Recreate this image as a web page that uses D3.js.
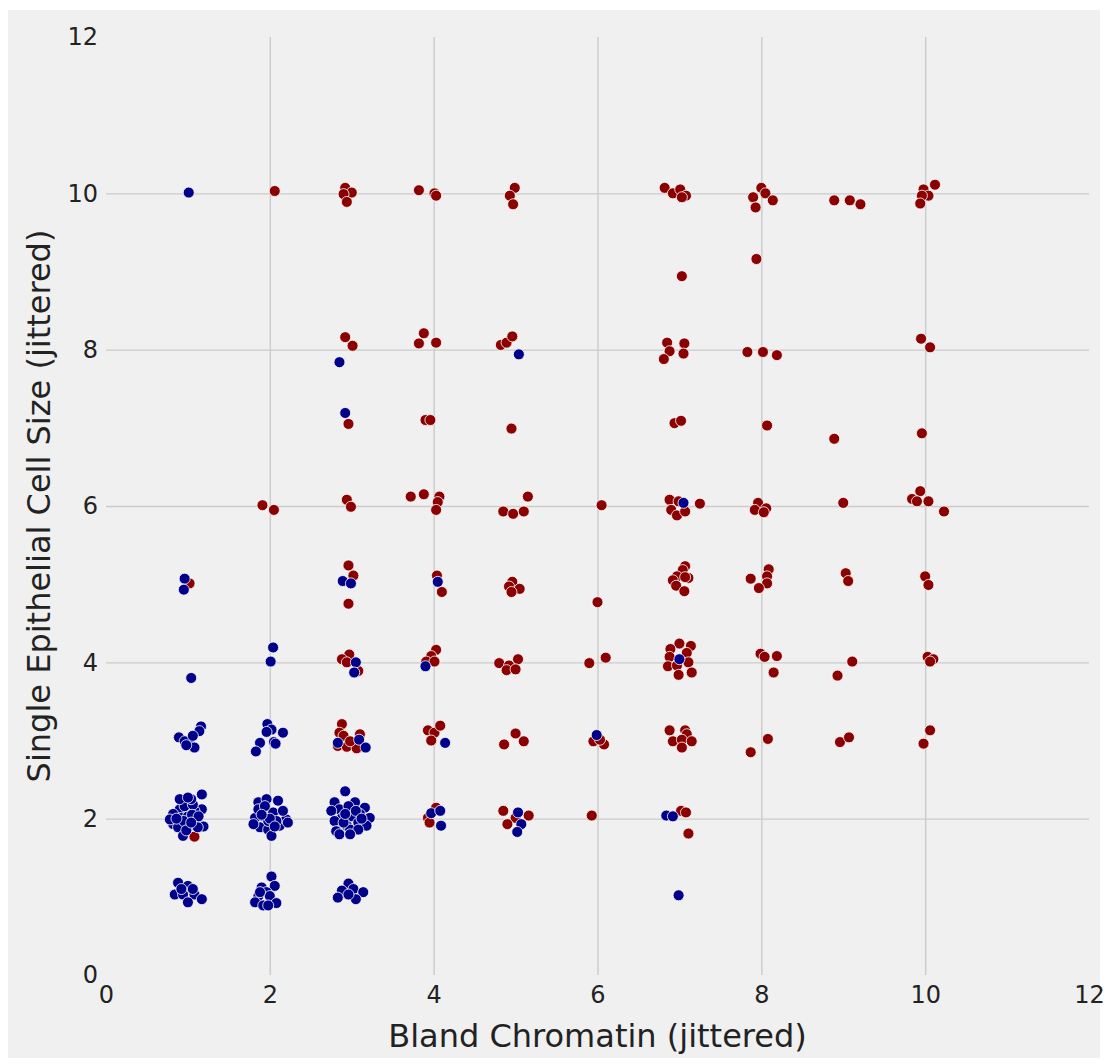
<!DOCTYPE html>
<html>
<head>
<meta charset="utf-8">
<script src="https://cdn.jsdelivr.net/npm/d3@7"></script>
<style>
  body { margin: 0; background: #fff; }
  text { font-family: "DejaVu Sans", sans-serif; }
</style>
</head>
<body>
<div id="container"></div>
<script>
// chart values (x = bland chromatin, y = cell size, both jittered)
const xTicks = [0, 2, 4, 6, 8, 10, 12];
const yTicks = [0, 2, 4, 6, 8, 10, 12];
const xLabel = 'Bland Chromatin (jittered)';
const yLabel = 'Single Epithelial Cell Size (jittered)';

const malignant = [
  [2.06,10.03],[2.92,10.07],[3.00,10.01],[2.90,9.99],[2.94,9.89],
  [3.82,10.04],[4.01,10.00],[4.03,9.97],[4.99,10.07],[4.93,9.97],[4.97,9.86],
  [6.82,10.07],[6.92,10.00],[7.01,10.05],[7.08,9.97],[7.03,9.95],
  [8.00,10.07],[8.05,10.00],[7.90,9.95],[8.14,9.91],[7.93,9.82],
  [8.89,9.91],[9.08,9.91],[9.21,9.86],
  [10.12,10.11],[9.98,10.05],[10.04,9.97],[9.96,9.97],[9.94,9.87],
  [7.94,9.16],[7.03,8.94],
  [2.92,8.16],[3.01,8.05],[3.88,8.21],[3.82,8.08],[4.03,8.09],[4.82,8.06],[4.89,8.09],[4.96,8.17],
  [6.85,8.09],[6.88,7.98],[6.81,7.88],[7.06,8.08],[7.05,7.95],[7.83,7.97],[8.02,7.97],[8.19,7.93],
  [9.95,8.14],[10.06,8.03],
  [2.96,7.05],[3.90,7.10],[3.96,7.10],[4.95,6.99],[6.94,7.06],[7.02,7.09],[8.07,7.03],[8.89,6.86],[9.96,6.93],
  [1.91,6.01],[2.05,5.95],[2.94,6.08],[2.99,5.99],[3.72,6.12],[3.88,6.15],[4.07,6.12],[4.05,6.05],[4.03,5.95],
  [4.85,5.93],[4.97,5.90],[5.10,5.93],[5.15,6.12],[6.05,6.01],[6.88,6.08],[7.25,6.03],[6.90,5.95],[6.97,5.88],
  [7.07,5.93],[6.99,6.06],[7.96,6.04],[8.06,5.97],[7.92,5.95],[8.03,5.92],[9.00,6.04],[9.94,6.19],[9.84,6.09],
  [9.90,6.06],[10.04,6.06],[10.23,5.93],
  [1.02,5.01],[2.96,5.24],[3.02,5.11],[2.96,4.75],[4.04,5.11],[4.10,4.90],[4.96,5.03],[4.92,4.97],[5.05,4.94],
  [4.95,4.90],[6.00,4.77],[7.07,5.23],[7.04,5.18],[6.97,5.10],[6.92,5.05],[7.11,5.08],[7.07,5.09],[6.96,4.98],
  [7.06,4.91],[8.09,5.19],[8.07,5.10],[7.87,5.07],[8.07,5.01],[7.97,4.95],[9.03,5.14],[9.06,5.04],[10.00,5.10],[10.04,4.99],
  [2.97,4.10],[2.88,4.04],[2.94,4.00],[3.08,3.89],[4.03,4.16],[3.97,4.08],[3.91,4.01],[4.01,4.01],[4.80,3.99],
  [4.92,3.96],[5.03,4.04],[4.89,3.90],[5.00,3.91],[5.90,3.99],[6.10,4.06],[7.00,4.24],[7.14,4.21],[6.89,4.17],
  [7.09,4.12],[6.88,4.07],[7.11,4.00],[6.86,3.95],[6.97,3.96],[6.99,3.84],[7.15,3.87],[7.99,4.11],[8.04,4.07],
  [8.19,4.08],[8.15,3.87],[9.11,4.01],[8.93,3.83],[10.03,4.07],[10.10,4.04],[10.06,4.01],
  [2.88,3.21],[2.85,3.10],[2.90,3.06],[3.10,3.08],[2.83,2.93],[2.94,2.92],[3.06,2.90],[2.98,2.99],[3.93,3.13],
  [4.01,3.10],[4.08,3.19],[3.97,3.00],[4.86,2.95],[5.00,3.09],[5.10,2.99],[5.95,2.99],[6.08,2.95],[6.03,3.01],
  [6.88,3.13],[7.07,3.13],[7.09,3.08],[6.92,2.99],[7.03,3.01],[7.15,2.99],[7.03,2.91],[8.08,3.02],[7.87,2.85],
  [8.96,2.98],[9.07,3.04],[10.06,3.13],[9.98,2.96],
  [1.08,1.77],[4.03,2.14],[3.93,2.01],[3.95,1.95],[4.85,2.10],[5.16,2.04],[5.00,2.01],[4.90,1.93],[5.93,2.04],
  [7.02,2.10],[7.08,2.08],[7.11,1.81]
];

const benign = [
  [1.01,10.01],[2.85,7.84],[2.92,7.19],[5.04,7.94],[7.05,6.04],[0.96,5.07],[0.95,4.93],[2.89,5.04],[2.99,5.01],
  [4.05,5.03],[2.04,4.19],[2.01,4.01],[3.05,4.00],[3.03,3.87],[3.90,3.95],[7.00,4.04],[1.04,3.80],
  [1.16,3.18],[1.14,3.12],[0.89,3.04],[1.01,2.98],[1.08,2.91],[0.96,2.99],[1.06,3.06],[0.98,2.94],
  [1.97,3.21],[2.02,3.14],[2.16,3.10],[1.96,3.11],[2.05,2.98],[1.88,2.97],[1.83,2.86],[2.07,2.96],
  [3.09,3.01],[3.17,2.91],[2.83,2.97],[4.14,2.97],[5.99,3.07],
  [0.90,2.12],[0.92,2.01],[0.82,1.93],[0.88,1.89],[0.94,1.78],[1.02,1.91],[1.10,1.99],[1.17,2.12],[1.19,1.90],
  [1.00,2.03],[1.08,2.10],[0.82,2.06],[0.96,2.16],[1.06,2.18],[1.12,1.89],[0.78,1.99],[0.90,2.25],[1.04,2.25],
  [1.00,2.27],[1.17,2.31],[0.95,1.97],[1.05,2.05],[0.86,2.00],[1.13,2.03],[0.98,1.85],[1.04,1.95],
  [1.86,2.21],[1.96,2.25],[2.10,2.23],[1.82,2.01],[1.92,2.03],[2.04,2.08],[2.20,1.99],[1.88,1.89],[1.98,1.86],
  [2.02,1.78],[2.12,1.91],[2.22,1.95],[1.86,2.12],[2.08,1.97],[1.98,1.97],[2.16,2.10],[1.80,1.93],[1.94,2.16],
  [2.00,2.00],[1.90,2.05],[2.06,1.90],
  [2.92,2.35],[2.79,2.21],[3.04,2.21],[3.16,2.14],[2.85,2.12],[2.96,2.16],[2.75,2.10],[3.22,2.01],[3.10,2.06],
  [3.00,2.03],[2.88,2.01],[2.79,1.97],[3.08,1.95],[2.94,1.91],[3.18,1.91],[2.81,1.84],[2.98,1.86],[3.08,1.86],
  [2.85,1.80],[2.98,1.80],[2.90,1.95],[3.05,2.10],[2.92,2.06],[3.12,2.00],
  [3.97,2.07],[4.08,2.10],[4.09,1.91],[5.03,2.08],[5.07,1.93],[5.02,1.83],[6.84,2.04],[6.92,2.03],
  [0.88,1.18],[1.00,1.14],[0.84,1.03],[0.94,1.03],[1.08,1.03],[1.17,0.97],[1.00,0.93],[0.92,1.10],[1.06,1.10],
  [2.02,1.26],[2.06,1.14],[1.90,1.12],[1.96,1.06],[1.86,1.01],[2.00,1.01],[1.82,0.93],[1.92,0.89],[2.08,0.92],
  [1.98,0.89],[1.88,1.06],
  [2.96,1.17],[2.88,1.08],[3.02,1.10],[3.14,1.06],[2.83,0.99],[3.05,0.97],[2.96,1.03],
  [6.99,1.02]
];

const w = 1105;
const h = 1063;
const plotLeft = 106, plotRight = 1089, plotTop = 37, plotBottom = 975;

const svg = d3.select('#container')
  .append('svg')
  .attr('width', w)
  .attr('height', h);

// figure background
svg.append('rect')
  .attr('x', 8).attr('y', 10)
  .attr('width', 1092).attr('height', 1048)
  .attr('fill', '#f0f0f0');

const xScale = d3.scaleLinear().domain([0, 12]).range([plotLeft, plotRight]);
const yScale = d3.scaleLinear().domain([0, 12]).range([plotBottom, plotTop]);

const xAxis = d3.axisBottom(xScale)
  .tickValues(xTicks)
  .tickFormat(d3.format('d'))
  .tickSize(-(plotBottom - plotTop))
  .tickPadding(11);

const yAxis = d3.axisLeft(yScale)
  .tickValues(yTicks)
  .tickFormat(d3.format('d'))
  .tickSize(-(plotRight - plotLeft))
  .tickPadding(8);

const gx = svg.append('g')
  .attr('id', 'x-axis')
  .attr('transform', 'translate(0,' + plotBottom + ')')
  .call(xAxis);

const gy = svg.append('g')
  .attr('id', 'y-axis')
  .attr('transform', 'translate(' + plotLeft + ',0)')
  .call(yAxis);

[gx, gy].forEach(g => {
  g.select('.domain').remove();
  g.selectAll('.tick line')
    .attr('stroke', '#cbcbcb')
    .attr('stroke-width', 1.4)
    // no grid line on the edges of the plot
    .attr('display', d => (d === 0 || d === 12) ? 'none' : null);
  g.selectAll('.tick text')
    .attr('fill', '#222')
    .style('font-family', '"DejaVu Sans", sans-serif')
    .style('font-size', '24px');
});

svg.append('text')
  .attr('x', (plotLeft + plotRight) / 2)
  .attr('y', 1047)
  .attr('text-anchor', 'middle')
  .attr('fill', '#222')
  .style('font-size', '32px')
  .text(xLabel);

svg.append('text')
  .attr('transform', 'translate(50,' + ((plotTop + plotBottom) / 2) + ') rotate(-90)')
  .attr('text-anchor', 'middle')
  .attr('fill', '#222')
  .style('font-size', '32px')
  .text(yLabel);

const dots = svg.append('g');

dots.selectAll('circle.malignant')
  .data(malignant)
  .enter()
  .append('circle')
  .attr('class', 'malignant')
  .attr('cx', d => xScale(d[0]))
  .attr('cy', d => yScale(d[1]))
  .attr('r', 5.5)
  .attr('fill', '#8b0000')
  .attr('stroke', '#fff')
  .attr('stroke-width', 0.8);

dots.selectAll('circle.benign')
  .data(benign)
  .enter()
  .append('circle')
  .attr('class', 'benign')
  .attr('cx', d => xScale(d[0]))
  .attr('cy', d => yScale(d[1]))
  .attr('r', 5.5)
  .attr('fill', '#00008b')
  .attr('stroke', '#fff')
  .attr('stroke-width', 0.8);
</script>
</body>
</html>
